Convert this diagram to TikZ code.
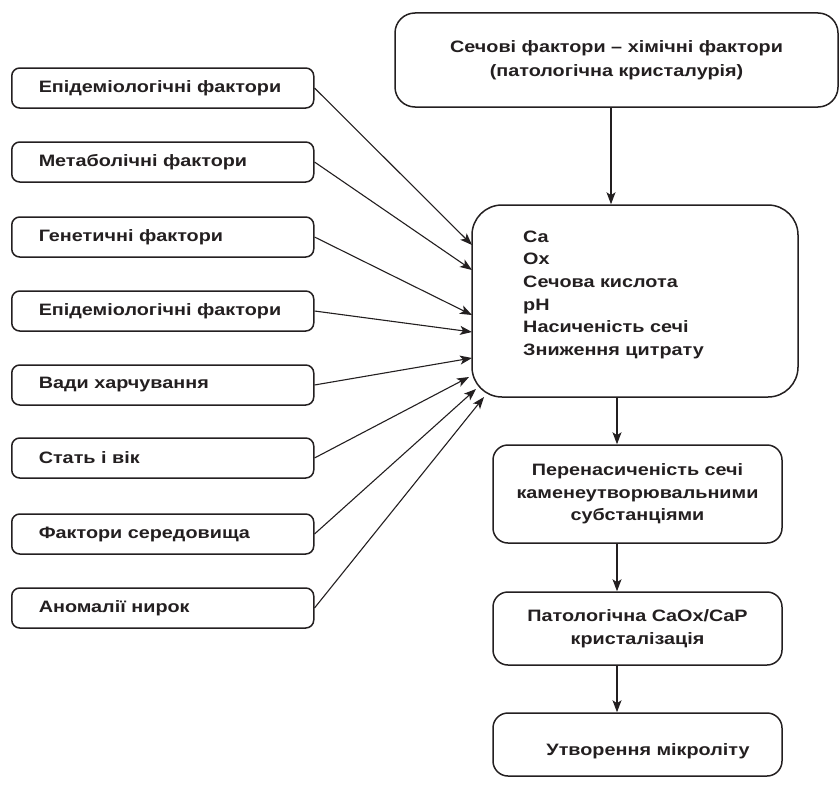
\documentclass[tikz,border=0pt]{standalone}
\usepackage{fontspec}
\setmainfont{Liberation Sans}[FakeStretch=1.2]
\usetikzlibrary{arrows.meta,calc}
\definecolor{ink}{HTML}{231F20}
\begin{document}
\begin{tikzpicture}[x=1pt,y=-1pt,
  every node/.style={font=\bfseries\fontsize{16.5}{22.5}\selectfont, text=ink},
  lbox/.style={draw=ink, line width=1.5pt, rounded corners=8pt, anchor=west,
    minimum height=40pt, text width=248pt, inner xsep=27pt, inner ysep=0pt, align=left},
  rbox/.style={draw=ink, line width=1.5pt, rounded corners=#1, inner sep=0pt},
  rbox/.default=15pt,
  arr/.style={draw=ink, line width=1.1pt, -{Stealth[length=12pt,width=9pt,inset=3pt]}}
]
\useasboundingbox (0,0) rectangle (840,784);

% left factor boxes
\node[lbox] (l1) at (11,88)  {Епідеміологічні фактори};
\node[lbox] (l2) at (11,162) {Метаболічні фактори};
\node[lbox] (l3) at (11,237) {Генетичні фактори};
\node[lbox] (l4) at (11,311) {Епідеміологічні фактори};
\node[lbox] (l5) at (11,385) {Вади харчування};
\node[lbox] (l6) at (11,458) {Стать і вік};
\node[lbox] (l7) at (11,534) {Фактори середовища};
\node[lbox] (l8) at (11,608) {Аномалії нирок};

% top box
\node[rbox=20pt, minimum width=443pt, minimum height=94pt, align=center] (tb) at (616.5,60)
  {Сечові фактори – хімічні фактори\\[2pt](патологічна кристалурія)};

% central box
\node[rbox=30pt, minimum width=326pt, minimum height=192pt] (c) at (635,301) {};
\node[align=left, anchor=base west, inner sep=0pt,
  font=\bfseries\fontsize{16.5}{22.7}\selectfont] (ct) at (523,355.5)
  {Ca\\Ox\\Сечова кислота\\pH\\Насиченість сечі\\Зниження цитрату};

% lower chain
\node[rbox, minimum width=289pt, minimum height=98pt, align=center] (b3) at (637.5,494)
  {Перенасиченість сечі\\каменеутворювальними\\субстанціями};
\node[rbox, minimum width=289pt, minimum height=73pt, align=center] (b4) at (637.5,628.5)
  {Патологічна CaOx/CaP\\кристалізація};
\node[rbox, minimum width=289pt, minimum height=63pt] (b5) at (637.5,744.5) {};
\node[inner sep=0pt] (b5t) at (648,751) {Утворення мікроліту};

% arrow columns
\coordinate (xa) at (611,0);
\coordinate (xb) at (617,0);
\draw[arr] (tb.south -| xa) -- (c.north -| xa);
\draw[arr] (c.south -| xb) -- (b3.north -| xb);
\draw[arr] (b3.south -| xb) -- (b4.north -| xb);
\draw[arr] (b4.south -| xb) -- (b5.north -| xb);

% targets on central box
\coordinate (t1) at (472,245);
\coordinate (t2) at (472,270);
\coordinate (t3) at (472,315);
\coordinate (t4) at (472,332);
\coordinate (t5) at (472,358);
\coordinate (t6) at (469,377);
\coordinate (t7) at (476,389);
\coordinate (t8) at (484,397);
\foreach \i in {1,...,8} {\draw[arr] (l\i.east) -- (t\i);}
\end{tikzpicture}
\end{document}
